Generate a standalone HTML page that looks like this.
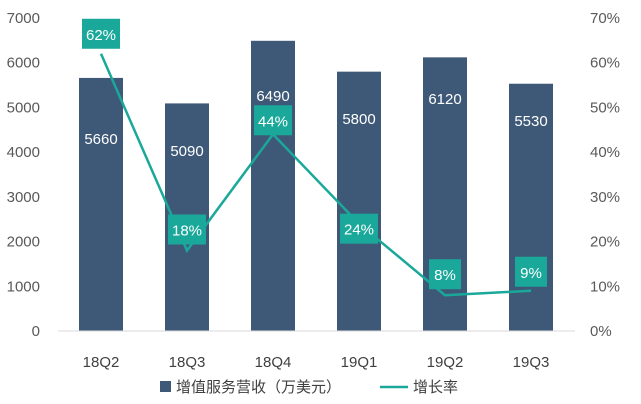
<!DOCTYPE html>
<html><head><meta charset="utf-8">
<style>
html,body{margin:0;padding:0;background:#fff;}
svg{display:block;font-family:"Liberation Sans","Noto Sans CJK SC",sans-serif;}
</style></head>
<body>
<svg id="chart" width="641" height="404" viewBox="0 0 641 404"></svg>
<script>
const categories=["18Q2","18Q3","18Q4","19Q1","19Q2","19Q3"];
const revenue=[5660,5090,6490,5800,6120,5530];
const growth=[62,18,44,24,8,9];
const leftTicks=[0,1000,2000,3000,4000,5000,6000,7000];
const rightTicks=[0,10,20,30,40,50,60,70];
const barLabelY=[138,150,95,118,98,120];
const growthLabelOffset=[-20,-21,-14,5,-21,-19];

const svg=document.getElementById('chart');
const NS='http://www.w3.org/2000/svg';
const y0=331,y1=18;
const yL=v=>y0-(v/7000)*(y0-y1);
const yR=v=>y0-(v/70)*(y0-y1);
const xC=i=>101+i*86;
function mk(tag,attrs,text){const e=document.createElementNS(NS,tag);for(const k in attrs)e.setAttribute(k,attrs[k]);if(text!==undefined)e.textContent=text;svg.appendChild(e);return e;}

leftTicks.forEach(t=>{const e=mk('text',{x:40,y:yL(t)+5,'text-anchor':'end','font-size':15,fill:'#595959'},t);

});
rightTicks.forEach(t=>{const e=mk('text',{x:590,y:yR(t)+5,'text-anchor':'start','font-size':15,fill:'#595959'},t+'%');

});

categories.forEach((c,i)=>{
 const b=mk('rect',{x:xC(i)-22,y:yL(revenue[i]),width:44,height:y0-yL(revenue[i]),fill:'#3e5977'});
 
 
 const t=mk('text',{x:xC(i),y:barLabelY[i]+6,'text-anchor':'middle','font-size':15,fill:'#fff'},revenue[i]);
 
 
 const xl=mk('text',{x:xC(i),y:367,'text-anchor':'middle','font-size':15,fill:'#404040'},c);
 
 
});
const ax=mk('line',{x1:58,x2:575,y1:y0,y2:y0,stroke:'#d9d9d9','stroke-width':1});



const pl=mk('polyline',{points:growth.map((g,i)=>xC(i)+','+yR(g)).join(' '),fill:'none',stroke:'#1aa89a','stroke-width':2.5});


growth.forEach((g,i)=>{
 const cy=yR(g)+growthLabelOffset[i];
 const w=g>=10?38:32;
 const r=mk('rect',{x:xC(i)-w/2,y:cy-15,width:w,height:30,fill:'#1aa89a'});
 
 
 const t=mk('text',{x:xC(i),y:cy+6,'text-anchor':'middle','font-size':15,fill:'#fff'},g+'%');
 
 
});

const lr=mk('rect',{x:160,y:381,width:11,height:11,fill:'#3e5977'});


const lt=mk('text',{x:176,y:392,'font-size':15,fill:'#404040'},'增值服务营收（万美元）');


const ll=mk('line',{x1:380,x2:408,y1:387,y2:387,stroke:'#1aa89a','stroke-width':2.5});


const lg=mk('text',{x:413,y:392,'font-size':15,fill:'#404040'},'增长率');


</script>
</body></html>
